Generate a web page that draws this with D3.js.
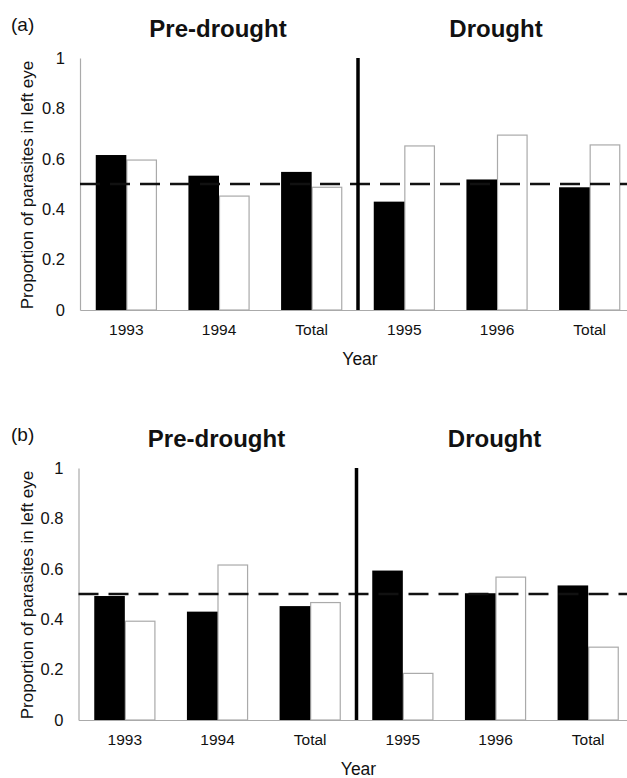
<!DOCTYPE html>
<html>
<head>
<meta charset="utf-8">
<script src="https://cdn.jsdelivr.net/npm/d3@7"></script>
<style>
  body { margin: 0; background: #fff; }
  text { font-family: Arial, "Liberation Sans", sans-serif; fill: #111; }
</style>
</head>
<body>
<div id="chart"></div>
<script>
// data
var categories = ["1993", "1994", "Total", "1995", "1996", "Total"];
var periods = ["Pre-drought", "Drought"];
var yTicks = [0, 0.2, 0.4, 0.6, 0.8, 1];
var reference = 0.5;

// panel (a)
var aDark = [0.615, 0.533, 0.548, 0.43, 0.518, 0.487];
var aLight = [0.595, 0.452, 0.487, 0.651, 0.694, 0.655];
// panel (b)
var bDark = [0.492, 0.43, 0.452, 0.593, 0.503, 0.534];
var bLight = [0.392, 0.615, 0.466, 0.185, 0.567, 0.289];

var svgWidth = 627;
var svgHeight = 778;

var svg = d3.select("#chart")
  .append("svg")
  .attr("width", svgWidth)
  .attr("height", svgHeight);

var panels = [
  { tag: "(a)", dark: aDark, light: aLight, left: 80, top: 58, bottom: 310, right: 636 },
  { tag: "(b)", dark: bDark, light: bLight, left: 78.5, top: 468, bottom: 720, right: 634.5 }
];

panels.forEach(function(p) {
  var g = svg.append("g");

  var idx = d3.range(categories.length);

  var x0 = d3.scaleBand()
    .domain(idx)
    .range([p.left, p.right])
    .paddingInner(0.34)
    .paddingOuter(0.17);

  var x1 = d3.scaleBand()
    .domain(["dark", "light"])
    .range([0, x0.bandwidth()]);

  var y = d3.scaleLinear()
    .domain([0, 1])
    .range([p.bottom, p.top]);

  var rows = idx.map(function(i) {
    return { i: i, dark: p.dark[i], light: p.light[i] };
  });

  // light (white) bars
  g.selectAll(".light")
    .data(rows)
    .enter()
    .append("rect")
    .attr("class", "light")
    .attr("x", d => x0(d.i) + x1("light") + 0.5)
    .attr("y", d => y(d.light))
    .attr("width", x1.bandwidth() - 1)
    .attr("height", d => y(0) - y(d.light))
    .attr("fill", "#fff")
    .attr("stroke", "#aaa")
    .attr("stroke-width", 1.2);

  // axes
  var leftAxis = d3.axisLeft(y)
    .tickValues(yTicks)
    .tickSize(0)
    .tickPadding(15)
    .tickFormat(d => (d === 0 || d === 1) ? String(d) : d.toFixed(1));

  var bottomAxis = d3.axisBottom(x0)
    .tickSize(0)
    .tickPadding(14)
    .tickFormat(i => categories[i]);

  var ya = g.append("g")
    .attr("transform", `translate(${p.left}, 0)`)
    .call(leftAxis);
  ya.select(".domain").attr("stroke", "#aaa").attr("stroke-width", 1.2);
  ya.selectAll("text").attr("font-size", 16.5).attr("fill", "#111");

  var xa = g.append("g")
    .attr("transform", `translate(0, ${p.bottom})`)
    .call(bottomAxis);
  xa.select(".domain").attr("stroke", "#aaa").attr("stroke-width", 1.2);
  xa.selectAll("text").attr("font-size", 15.5).attr("fill", "#111");

  // dark bars
  g.selectAll(".dark")
    .data(rows)
    .enter()
    .append("rect")
    .attr("class", "dark")
    .attr("x", d => x0(d.i) + x1("dark"))
    .attr("y", d => y(d.dark))
    .attr("width", x1.bandwidth())
    .attr("height", d => y(0) - y(d.dark))
    .attr("fill", "#000");

  // 0.5 reference line
  g.append("line")
    .attr("x1", p.left)
    .attr("x2", svgWidth)
    .attr("y1", y(reference))
    .attr("y2", y(reference))
    .attr("stroke", "#111")
    .attr("stroke-width", 2.4)
    .attr("stroke-dasharray", "20,10");

  // separator between pre-drought and drought
  var sepX = x0(3) - x0.step() * x0.paddingInner() / 2;
  g.append("line")
    .attr("x1", sepX)
    .attr("x2", sepX)
    .attr("y1", y(1))
    .attr("y2", y(0))
    .attr("stroke", "#000")
    .attr("stroke-width", 3.5);

  // period headers
  var preCenter = (x0(0) + x0(2) + x0.bandwidth()) / 2;
  var drCenter = (x0(3) + x0(5) + x0.bandwidth()) / 2;
  [preCenter, drCenter].forEach(function(cx, k) {
    g.append("text")
      .attr("x", cx - 1)
      .attr("y", p.top - 21)
      .attr("text-anchor", "middle")
      .attr("font-size", 24)
      .attr("font-weight", "bold")
      .text(periods[k]);
  });

  // panel tag
  g.append("text")
    .attr("x", 11)
    .attr("y", p.top - 27)
    .attr("font-size", 19)
    .text(p.tag);

  // axis titles
  g.append("text")
    .attr("transform", `translate(33, ${(p.top + p.bottom) / 2 + 1}) rotate(-90)`)
    .attr("text-anchor", "middle")
    .attr("font-size", 17)
    .text("Proportion of parasites in left eye");

  g.append("text")
    .attr("x", sepX + 2)
    .attr("y", p.bottom + 55)
    .attr("text-anchor", "middle")
    .attr("font-size", 17.5)
    .text("Year");
});
</script>
</body>
</html>
